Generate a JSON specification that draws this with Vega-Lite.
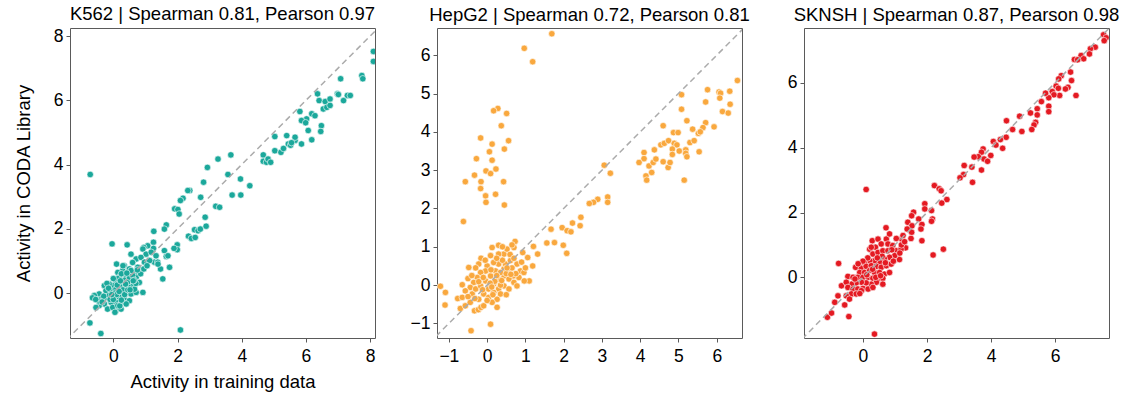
{
  "$schema": "https://vega.github.io/schema/vega-lite/v6.json",
  "padding": {"left": 13, "top": 4, "right": 5, "bottom": 5},
  "background": "white",
  "spacing": 62,
  "bounds": "flush",
  "config": {
    "font": "Liberation Sans",
    "view": {"stroke": "#5a5a5a", "strokeWidth": 1},
    "axis": {
      "domain": false, "grid": false, "ticks": true, "tickSize": 4, "tickColor": "#5a5a5a",
      "labelFont": "Liberation Sans", "labelFontSize": 17.5, "labelColor": "#000", "labelPadding": 3,
      "titleFont": "Liberation Sans", "titleFontSize": 18.5, "titleFontWeight": "normal", "titleColor": "#000"
    },
    "axisX": {"labelPadding": 5},
    "title": {"font": "Liberation Sans", "fontSize": 18.5, "fontWeight": "normal", "color": "#000", "offset": 4, "anchor": "middle"}
  },
  "datasets": {
    "diag": [
      {"cell": "K562", "x": -3, "y": -3}, {"cell": "K562", "x": 10, "y": 10},
      {"cell": "HepG2", "x": -3, "y": -3}, {"cell": "HepG2", "x": 10, "y": 10},
      {"cell": "SKNSH", "x": -3, "y": -3}, {"cell": "SKNSH", "x": 10, "y": 10}
    ],
    "points": [
      {"cell":"K562","x":-0.72,"y":3.69},{"cell":"K562","x":-0.73,"y":-0.93},{"cell":"K562","x":-0.39,"y":-1.26},{"cell":"K562","x":2.09,"y":-1.15},{"cell":"K562","x":-0.04,"y":1.53},{"cell":"K562","x":0.43,"y":1.5},{"cell":"K562","x":0.92,"y":0.02},
      {"cell":"K562","x":8.1,"y":7.52},{"cell":"K562","x":8.1,"y":7.21},{"cell":"K562","x":7.74,"y":6.77},{"cell":"K562","x":7.77,"y":6.67},{"cell":"K562","x":7.08,"y":6.67},
      {"cell":"K562","x":6.98,"y":6.2},{"cell":"K562","x":7.01,"y":6.18},{"cell":"K562","x":7.29,"y":6.15},{"cell":"K562","x":7.38,"y":6.15},{"cell":"K562","x":7.17,"y":5.99},
      {"cell":"K562","x":6.36,"y":6.2},{"cell":"K562","x":6.41,"y":5.99},{"cell":"K562","x":6.6,"y":5.96},{"cell":"K562","x":6.75,"y":6.04},{"cell":"K562","x":6.54,"y":5.73},{"cell":"K562","x":6.65,"y":5.78},{"cell":"K562","x":6.75,"y":5.84},
      {"cell":"K562","x":6.18,"y":5.58},{"cell":"K562","x":6.28,"y":5.52},{"cell":"K562","x":6.02,"y":5.42},{"cell":"K562","x":5.86,"y":5.37},{"cell":"K562","x":5.81,"y":5.65},{"cell":"K562","x":5.99,"y":5.3},
      {"cell":"K562","x":6.48,"y":5.21},{"cell":"K562","x":6.46,"y":5.03},{"cell":"K562","x":6.07,"y":5.06},{"cell":"K562","x":6.18,"y":4.77},{"cell":"K562","x":5.86,"y":4.64},{"cell":"K562","x":5.66,"y":4.75},{"cell":"K562","x":5.66,"y":4.85},{"cell":"K562","x":5.45,"y":4.64},{"cell":"K562","x":5.52,"y":4.6},{"cell":"K562","x":5.4,"y":4.9},{"cell":"K562","x":5.03,"y":4.87},{"cell":"K562","x":5.03,"y":4.43},{"cell":"K562","x":5.22,"y":4.38},{"cell":"K562","x":5.3,"y":4.5},{"cell":"K562","x":5.55,"y":4.68},
      {"cell":"K562","x":4.67,"y":4.3},{"cell":"K562","x":4.67,"y":4.1},{"cell":"K562","x":4.77,"y":4.07},{"cell":"K562","x":4.82,"y":4.17},{"cell":"K562","x":4.9,"y":4.07},
      {"cell":"K562","x":3.26,"y":4.17},{"cell":"K562","x":3.66,"y":4.3},{"cell":"K562","x":2.93,"y":3.91},{"cell":"K562","x":3.57,"y":3.69},{"cell":"K562","x":3.96,"y":3.55},{"cell":"K562","x":4.25,"y":3.34},{"cell":"K562","x":2.81,"y":3.45},{"cell":"K562","x":2.38,"y":3.19},{"cell":"K562","x":2.32,"y":3.19},{"cell":"K562","x":2.17,"y":2.95},{"cell":"K562","x":2.09,"y":2.88},{"cell":"K562","x":2.72,"y":2.98},{"cell":"K562","x":3.7,"y":3.05},{"cell":"K562","x":3.97,"y":3.05},{"cell":"K562","x":3.19,"y":2.7},{"cell":"K562","x":3.31,"y":2.67},{"cell":"K562","x":1.91,"y":2.62},{"cell":"K562","x":2.01,"y":2.6},{"cell":"K562","x":2.05,"y":2.46},{"cell":"K562","x":1.26,"y":1.92},{"cell":"K562","x":1.65,"y":2.12},{"cell":"K562","x":1.59,"y":1.99},{"cell":"K562","x":2.53,"y":1.97},{"cell":"K562","x":2.64,"y":1.94},{"cell":"K562","x":2.71,"y":1.99},{"cell":"K562","x":2.89,"y":2.08},{"cell":"K562","x":2.86,"y":2.36},{"cell":"K562","x":2.34,"y":1.77},{"cell":"K562","x":2.43,"y":1.7},{"cell":"K562","x":2.55,"y":1.73},{"cell":"K562","x":1.99,"y":1.5},{"cell":"K562","x":1.99,"y":1.35},{"cell":"K562","x":1.89,"y":1.39},{"cell":"K562","x":1.25,"y":1.58},{"cell":"K562","x":1.25,"y":1.39},{"cell":"K562","x":1.07,"y":1.47},{"cell":"K562","x":0.95,"y":1.42},{"cell":"K562","x":1.59,"y":1.32},{"cell":"K562","x":1.65,"y":1.14},{"cell":"K562","x":1.7,"y":1.16},{"cell":"K562","x":1.75,"y":0.8},{"cell":"K562","x":1.54,"y":0.44},{"cell":"K562","x":1.47,"y":0.75},{"cell":"K562","x":1.28,"y":0.96},{"cell":"K562","x":1.38,"y":0.96},
      {"cell":"K562","x":0.92,"y":1.37},{"cell":"K562","x":1.02,"y":1.21},{"cell":"K562","x":1.18,"y":1.27},{"cell":"K562","x":1.33,"y":1.16},{"cell":"K562","x":0.55,"y":1.21},{"cell":"K562","x":0.71,"y":1.06},{"cell":"K562","x":0.86,"y":1.11},{"cell":"K562","x":0.97,"y":0.96},{"cell":"K562","x":1.13,"y":1.01},{"cell":"K562","x":1.39,"y":0.9},
      {"cell":"K562","x":0.34,"y":0.85},{"cell":"K562","x":0.29,"y":0.7},{"cell":"K562","x":0.5,"y":0.75},{"cell":"K562","x":0.66,"y":0.64},{"cell":"K562","x":0.76,"y":0.8},{"cell":"K562","x":0.14,"y":0.64},{"cell":"K562","x":0.19,"y":0.49},{"cell":"K562","x":0.4,"y":0.54},{"cell":"K562","x":0.55,"y":0.44},{"cell":"K562","x":0.71,"y":0.49},{"cell":"K562","x":0.81,"y":0.33},{"cell":"K562","x":0.6,"y":0.23},{"cell":"K562","x":0.45,"y":0.23},{"cell":"K562","x":0.29,"y":0.33},{"cell":"K562","x":0.08,"y":0.33},{"cell":"K562","x":-0.02,"y":0.23},{"cell":"K562","x":-0.13,"y":0.28},{"cell":"K562","x":-0.28,"y":0.23},{"cell":"K562","x":-0.23,"y":0.07},{"cell":"K562","x":-0.07,"y":0.07},{"cell":"K562","x":0.08,"y":0.12},{"cell":"K562","x":0.24,"y":0.07},{"cell":"K562","x":0.4,"y":0.02},{"cell":"K562","x":0.55,"y":-0.03},{"cell":"K562","x":0.71,"y":0.02},{"cell":"K562","x":-0.44,"y":-0.03},{"cell":"K562","x":-0.59,"y":-0.08},{"cell":"K562","x":-0.39,"y":-0.19},{"cell":"K562","x":-0.23,"y":-0.13},{"cell":"K562","x":-0.13,"y":-0.08},{"cell":"K562","x":0.03,"y":-0.13},{"cell":"K562","x":0.19,"y":-0.13},{"cell":"K562","x":0.34,"y":-0.19},{"cell":"K562","x":0.5,"y":-0.24},{"cell":"K562","x":0.08,"y":-0.29},{"cell":"K562","x":-0.07,"y":-0.29},{"cell":"K562","x":-0.28,"y":-0.34},{"cell":"K562","x":-0.44,"y":-0.39},{"cell":"K562","x":-0.54,"y":-0.45},{"cell":"K562","x":-0.18,"y":-0.5},{"cell":"K562","x":0.08,"y":-0.55},{"cell":"K562","x":0.24,"y":-0.5},{"cell":"K562","x":-0.02,"y":-0.45},{"cell":"K562","x":0.29,"y":-0.29},{"cell":"K562","x":0.66,"y":0.12},{"cell":"K562","x":0.4,"y":-0.34},{"cell":"K562","x":0.14,"y":-0.39},
      {"cell":"K562","x":0.05,"y":0.0},{"cell":"K562","x":0.2,"y":0.2},{"cell":"K562","x":0.35,"y":0.4},{"cell":"K562","x":0.45,"y":0.35},{"cell":"K562","x":0.5,"y":0.5},{"cell":"K562","x":0.6,"y":0.55},{"cell":"K562","x":0.3,"y":0.1},{"cell":"K562","x":0.15,"y":0.45},{"cell":"K562","x":-0.1,"y":-0.2},{"cell":"K562","x":0.0,"y":0.45},{"cell":"K562","x":0.25,"y":0.6},{"cell":"K562","x":0.55,"y":0.7},{"cell":"K562","x":0.7,"y":0.3},{"cell":"K562","x":0.35,"y":-0.05},{"cell":"K562","x":-0.3,"y":-0.1},{"cell":"K562","x":-0.45,"y":-0.25},{"cell":"K562","x":0.1,"y":-0.05},{"cell":"K562","x":0.65,"y":0.4},{"cell":"K562","x":0.45,"y":0.1},{"cell":"K562","x":0.2,"y":-0.4},{"cell":"K562","x":0.05,"y":-0.6},{"cell":"K562","x":0.1,"y":0.9},{"cell":"K562","x":-0.65,"y":-0.15},{"cell":"K562","x":-0.55,"y":-0.2},{"cell":"K562","x":0.3,"y":0.85},{"cell":"K562","x":0.85,"y":0.6},{"cell":"K562","x":0.95,"y":0.75},{"cell":"K562","x":1.05,"y":0.85},{"cell":"K562","x":0.6,"y":0.95},{"cell":"K562","x":-0.2,"y":0.3},{"cell":"K562","x":0.0,"y":-0.2},
      {"cell":"K562","x":-0.15,"y":0.15},{"cell":"K562","x":0.12,"y":0.25},{"cell":"K562","x":0.38,"y":0.28},{"cell":"K562","x":0.52,"y":0.1},{"cell":"K562","x":0.62,"y":0.38},{"cell":"K562","x":0.25,"y":-0.22},{"cell":"K562","x":-0.35,"y":-0.28},{"cell":"K562","x":0.18,"y":0.05},{"cell":"K562","x":0.42,"y":0.62},{"cell":"K562","x":-0.05,"y":-0.05},{"cell":"K562","x":0.75,"y":0.72},{"cell":"K562","x":0.22,"y":0.38},

      {"cell":"HepG2","x":1.69,"y":6.56},{"cell":"HepG2","x":0.97,"y":6.18},{"cell":"HepG2","x":1.19,"y":5.83},{"cell":"HepG2","x":0.28,"y":4.61},{"cell":"HepG2","x":0.17,"y":4.55},{"cell":"HepG2","x":0.51,"y":4.48},{"cell":"HepG2","x":0.37,"y":4.16},{"cell":"HepG2","x":-0.17,"y":3.84},{"cell":"HepG2","x":0.56,"y":3.77},{"cell":"HepG2","x":0.13,"y":3.68},{"cell":"HepG2","x":0.45,"y":3.55},{"cell":"HepG2","x":0.06,"y":3.48},{"cell":"HepG2","x":-0.28,"y":3.3},{"cell":"HepG2","x":0.13,"y":3.26},{"cell":"HepG2","x":0.23,"y":3.03},{"cell":"HepG2","x":-0.03,"y":2.98},{"cell":"HepG2","x":0.09,"y":2.91},{"cell":"HepG2","x":-0.33,"y":2.87},{"cell":"HepG2","x":-0.57,"y":2.7},{"cell":"HepG2","x":-0.16,"y":2.7},{"cell":"HepG2","x":0.43,"y":2.7},{"cell":"HepG2","x":-0.17,"y":2.52},{"cell":"HepG2","x":0.22,"y":2.37},{"cell":"HepG2","x":-0.04,"y":2.33},{"cell":"HepG2","x":-0.03,"y":2.16},{"cell":"HepG2","x":0.45,"y":2.09},{"cell":"HepG2","x":-0.62,"y":1.66},
      {"cell":"HepG2","x":6.54,"y":5.34},{"cell":"HepG2","x":5.76,"y":5.1},{"cell":"HepG2","x":6.06,"y":5.04},{"cell":"HepG2","x":6.1,"y":5.01},{"cell":"HepG2","x":6.34,"y":5.06},{"cell":"HepG2","x":6.08,"y":4.88},{"cell":"HepG2","x":5.71,"y":4.78},{"cell":"HepG2","x":6.35,"y":4.72},{"cell":"HepG2","x":6.15,"y":4.53},{"cell":"HepG2","x":6.3,"y":4.49},{"cell":"HepG2","x":5.08,"y":4.97},{"cell":"HepG2","x":5.08,"y":4.59},{"cell":"HepG2","x":5.22,"y":4.29},{"cell":"HepG2","x":5.71,"y":4.24},{"cell":"HepG2","x":5.64,"y":4.11},{"cell":"HepG2","x":5.93,"y":4.13},{"cell":"HepG2","x":5.37,"y":4.07},{"cell":"HepG2","x":4.6,"y":4.16},{"cell":"HepG2","x":4.37,"y":3.53},{"cell":"HepG2","x":4.54,"y":3.66},{"cell":"HepG2","x":4.63,"y":3.7},{"cell":"HepG2","x":4.74,"y":3.77},{"cell":"HepG2","x":4.87,"y":3.98},{"cell":"HepG2","x":4.99,"y":3.98},{"cell":"HepG2","x":4.89,"y":3.7},{"cell":"HepG2","x":4.96,"y":3.66},{"cell":"HepG2","x":4.84,"y":3.55},{"cell":"HepG2","x":4.84,"y":3.41},{"cell":"HepG2","x":5.02,"y":3.5},{"cell":"HepG2","x":5.19,"y":3.53},{"cell":"HepG2","x":5.19,"y":3.44},{"cell":"HepG2","x":5.22,"y":3.35},{"cell":"HepG2","x":5.3,"y":3.72},{"cell":"HepG2","x":5.41,"y":3.77},{"cell":"HepG2","x":5.52,"y":3.96},{"cell":"HepG2","x":5.57,"y":4.0},{"cell":"HepG2","x":5.54,"y":3.48},{"cell":"HepG2","x":5.15,"y":2.74},{"cell":"HepG2","x":4.1,"y":3.46},{"cell":"HepG2","x":4.1,"y":3.3},{"cell":"HepG2","x":3.97,"y":3.2},{"cell":"HepG2","x":4.23,"y":3.11},{"cell":"HepG2","x":4.34,"y":3.2},{"cell":"HepG2","x":4.41,"y":3.29},{"cell":"HepG2","x":4.15,"y":2.85},{"cell":"HepG2","x":4.17,"y":2.74},{"cell":"HepG2","x":4.3,"y":2.94},{"cell":"HepG2","x":4.6,"y":3.22},{"cell":"HepG2","x":4.73,"y":3.07},{"cell":"HepG2","x":4.78,"y":3.2},{"cell":"HepG2","x":3.06,"y":3.13},{"cell":"HepG2","x":3.22,"y":2.92},{"cell":"HepG2","x":3.15,"y":2.3},{"cell":"HepG2","x":3.15,"y":2.16},{"cell":"HepG2","x":2.89,"y":2.24},{"cell":"HepG2","x":2.78,"y":2.16},{"cell":"HepG2","x":2.67,"y":2.13},{"cell":"HepG2","x":2.45,"y":1.77},{"cell":"HepG2","x":2.43,"y":1.55},{"cell":"HepG2","x":2.23,"y":1.62},{"cell":"HepG2","x":1.96,"y":1.5},{"cell":"HepG2","x":2.09,"y":1.42},{"cell":"HepG2","x":2.19,"y":1.39},{"cell":"HepG2","x":1.67,"y":1.46},{"cell":"HepG2","x":1.56,"y":1.1},{"cell":"HepG2","x":1.76,"y":1.11},{"cell":"HepG2","x":1.99,"y":1.04},{"cell":"HepG2","x":2.08,"y":0.83},{"cell":"HepG2","x":1.21,"y":1.01},{"cell":"HepG2","x":1.32,"y":0.81},{"cell":"HepG2","x":1.06,"y":0.72},{"cell":"HepG2","x":1.19,"y":0.5},{"cell":"HepG2","x":1.1,"y":0.11},
      {"cell":"HepG2","x":-1.22,"y":-0.03},{"cell":"HepG2","x":-1.09,"y":-0.19},{"cell":"HepG2","x":-1.1,"y":-0.52},{"cell":"HepG2","x":-0.42,"y":-1.19},{"cell":"HepG2","x":0.09,"y":-1.02},{"cell":"HepG2","x":-0.7,"y":-0.61},{"cell":"HepG2","x":-0.77,"y":-0.35},{"cell":"HepG2","x":-0.65,"y":0.01},{"cell":"HepG2","x":-0.48,"y":0.46},{"cell":"HepG2","x":-0.5,"y":0.17},{"cell":"HepG2","x":-0.16,"y":0.7},{"cell":"HepG2","x":-0.22,"y":0.55},{"cell":"HepG2","x":0.13,"y":0.98},{"cell":"HepG2","x":0.3,"y":1.04},{"cell":"HepG2","x":0.73,"y":1.14},{"cell":"HepG2","x":0.7,"y":0.98},{"cell":"HepG2","x":0.93,"y":0.85},{"cell":"HepG2","x":0.97,"y":0.11},{"cell":"HepG2","x":-0.33,"y":-0.67},{"cell":"HepG2","x":-0.23,"y":-0.64},{"cell":"HepG2","x":-0.16,"y":-0.58},
      {"cell":"HepG2","x":0.83,"y":0.2},{"cell":"HepG2","x":0.68,"y":0.24},{"cell":"HepG2","x":0.57,"y":0.37},{"cell":"HepG2","x":0.44,"y":0.42},{"cell":"HepG2","x":0.3,"y":0.55},{"cell":"HepG2","x":0.17,"y":0.59},{"cell":"HepG2","x":0.0,"y":0.5},{"cell":"HepG2","x":-0.04,"y":0.37},{"cell":"HepG2","x":-0.17,"y":0.33},{"cell":"HepG2","x":-0.26,"y":0.2},{"cell":"HepG2","x":-0.35,"y":0.07},{"cell":"HepG2","x":-0.44,"y":-0.06},{"cell":"HepG2","x":-0.57,"y":-0.15},{"cell":"HepG2","x":-0.65,"y":-0.32},{"cell":"HepG2","x":-0.57,"y":-0.54},{"cell":"HepG2","x":-0.44,"y":-0.45},{"cell":"HepG2","x":-0.09,"y":-0.54},{"cell":"HepG2","x":-0.22,"y":-0.37},{"cell":"HepG2","x":-0.09,"y":-0.23},{"cell":"HepG2","x":0.04,"y":-0.1},{"cell":"HepG2","x":0.17,"y":0.03},{"cell":"HepG2","x":0.3,"y":0.16},{"cell":"HepG2","x":0.44,"y":0.24},{"cell":"HepG2","x":0.57,"y":0.16},{"cell":"HepG2","x":0.7,"y":0.07},{"cell":"HepG2","x":0.44,"y":-0.02},{"cell":"HepG2","x":0.3,"y":-0.1},{"cell":"HepG2","x":0.17,"y":-0.19},{"cell":"HepG2","x":0.26,"y":-0.37},{"cell":"HepG2","x":0.04,"y":-0.32},{"cell":"HepG2","x":0.13,"y":-0.45},{"cell":"HepG2","x":-0.39,"y":-0.23},{"cell":"HepG2","x":-0.3,"y":-0.1},{"cell":"HepG2","x":0.09,"y":0.24},{"cell":"HepG2","x":0.22,"y":0.37},{"cell":"HepG2","x":0.35,"y":0.33},{"cell":"HepG2","x":0.48,"y":0.55},{"cell":"HepG2","x":0.61,"y":0.64},{"cell":"HepG2","x":0.78,"y":0.55},{"cell":"HepG2","x":0.87,"y":0.37},{"cell":"HepG2","x":-0.04,"y":0.11},{"cell":"HepG2","x":-0.17,"y":-0.02},{"cell":"HepG2","x":0.57,"y":-0.1},{"cell":"HepG2","x":0.78,"y":-0.02},{"cell":"HepG2","x":0.96,"y":0.33},{"cell":"HepG2","x":0.44,"y":0.81},{"cell":"HepG2","x":0.3,"y":0.81},{"cell":"HepG2","x":0.52,"y":0.94},{"cell":"HepG2","x":0.09,"y":0.77},{"cell":"HepG2","x":-0.22,"y":0.09},{"cell":"HepG2","x":0.35,"y":-0.23},{"cell":"HepG2","x":0.26,"y":-0.58},
      {"cell":"HepG2","x":0.2,"y":0.1},{"cell":"HepG2","x":0.5,"y":0.3},{"cell":"HepG2","x":0.65,"y":0.45},{"cell":"HepG2","x":0.4,"y":0.65},{"cell":"HepG2","x":0.1,"y":0.4},{"cell":"HepG2","x":-0.1,"y":0.2},{"cell":"HepG2","x":0.0,"y":-0.4},{"cell":"HepG2","x":0.35,"y":0.0},{"cell":"HepG2","x":0.6,"y":0.8},{"cell":"HepG2","x":0.25,"y":0.7},{"cell":"HepG2","x":-0.3,"y":0.45},{"cell":"HepG2","x":0.15,"y":-0.25},{"cell":"HepG2","x":-0.5,"y":-0.3},{"cell":"HepG2","x":0.75,"y":0.3},{"cell":"HepG2","x":0.9,"y":0.6},{"cell":"HepG2","x":1.0,"y":0.45},{"cell":"HepG2","x":0.5,"y":-0.25},{"cell":"HepG2","x":-0.05,"y":0.65},{"cell":"HepG2","x":0.4,"y":1.0},{"cell":"HepG2","x":0.65,"y":1.05},
      {"cell":"HepG2","x":-0.32,"y":-0.35},{"cell":"HepG2","x":-0.12,"y":-0.12},{"cell":"HepG2","x":0.08,"y":0.05},{"cell":"HepG2","x":0.25,"y":0.25},{"cell":"HepG2","x":0.52,"y":0.45},{"cell":"HepG2","x":0.38,"y":0.12},{"cell":"HepG2","x":0.7,"y":0.7},{"cell":"HepG2","x":-0.4,"y":0.25},{"cell":"HepG2","x":0.12,"y":-0.05},{"cell":"HepG2","x":0.62,"y":0.28},

      {"cell":"SKNSH","x":7.51,"y":7.48},{"cell":"SKNSH","x":7.59,"y":7.39},{"cell":"SKNSH","x":7.53,"y":7.3},{"cell":"SKNSH","x":7.25,"y":7.1},{"cell":"SKNSH","x":7.1,"y":7.05},{"cell":"SKNSH","x":7.07,"y":6.89},{"cell":"SKNSH","x":6.81,"y":6.84},{"cell":"SKNSH","x":6.89,"y":6.74},{"cell":"SKNSH","x":6.6,"y":6.72},{"cell":"SKNSH","x":6.7,"y":6.71},{"cell":"SKNSH","x":6.65,"y":5.61},{"cell":"SKNSH","x":6.51,"y":6.07},{"cell":"SKNSH","x":6.48,"y":6.33},{"cell":"SKNSH","x":6.19,"y":6.22},{"cell":"SKNSH","x":6.11,"y":6.12},{"cell":"SKNSH","x":6.03,"y":5.9},{"cell":"SKNSH","x":6.1,"y":5.83},{"cell":"SKNSH","x":6.4,"y":5.86},{"cell":"SKNSH","x":6.32,"y":5.81},{"cell":"SKNSH","x":6.14,"y":5.61},{"cell":"SKNSH","x":5.91,"y":5.73},{"cell":"SKNSH","x":5.96,"y":5.63},{"cell":"SKNSH","x":5.8,"y":5.54},{"cell":"SKNSH","x":5.7,"y":5.68},{"cell":"SKNSH","x":5.8,"y":5.28},{"cell":"SKNSH","x":5.8,"y":5.11},{"cell":"SKNSH","x":5.57,"y":5.42},{"cell":"SKNSH","x":5.44,"y":5.2},{"cell":"SKNSH","x":5.44,"y":5.01},{"cell":"SKNSH","x":5.39,"y":4.78},{"cell":"SKNSH","x":5.34,"y":4.7},{"cell":"SKNSH","x":5.27,"y":4.56},{"cell":"SKNSH","x":5.23,"y":5.07},{"cell":"SKNSH","x":4.89,"y":4.97},{"cell":"SKNSH","x":4.96,"y":4.5},{"cell":"SKNSH","x":4.48,"y":4.83},{"cell":"SKNSH","x":4.67,"y":4.56},{"cell":"SKNSH","x":4.47,"y":4.32},{"cell":"SKNSH","x":4.29,"y":4.25},{"cell":"SKNSH","x":4.07,"y":4.19},{"cell":"SKNSH","x":4.15,"y":4.08},{"cell":"SKNSH","x":4.36,"y":3.98},{"cell":"SKNSH","x":3.99,"y":3.76},{"cell":"SKNSH","x":3.75,"y":3.96},{"cell":"SKNSH","x":3.7,"y":3.86},{"cell":"SKNSH","x":3.78,"y":3.65},{"cell":"SKNSH","x":3.89,"y":3.58},{"cell":"SKNSH","x":3.6,"y":3.72},{"cell":"SKNSH","x":3.47,"y":3.71},{"cell":"SKNSH","x":3.4,"y":3.4},{"cell":"SKNSH","x":3.42,"y":2.93},{"cell":"SKNSH","x":3.7,"y":3.31},{"cell":"SKNSH","x":3.16,"y":3.45},{"cell":"SKNSH","x":3.14,"y":3.17},{"cell":"SKNSH","x":3.03,"y":3.07},{"cell":"SKNSH","x":2.23,"y":2.83},{"cell":"SKNSH","x":2.38,"y":2.73},{"cell":"SKNSH","x":2.44,"y":2.67},{"cell":"SKNSH","x":2.62,"y":2.4},{"cell":"SKNSH","x":2.46,"y":2.29},{"cell":"SKNSH","x":1.93,"y":2.27},{"cell":"SKNSH","x":1.93,"y":2.11},{"cell":"SKNSH","x":2.14,"y":2.06},{"cell":"SKNSH","x":2.17,"y":1.8},{"cell":"SKNSH","x":2.14,"y":1.73},{"cell":"SKNSH","x":1.58,"y":2.01},{"cell":"SKNSH","x":1.52,"y":1.9},{"cell":"SKNSH","x":1.74,"y":1.8},{"cell":"SKNSH","x":1.4,"y":1.7},{"cell":"SKNSH","x":1.84,"y":1.63},{"cell":"SKNSH","x":1.53,"y":1.59},{"cell":"SKNSH","x":1.38,"y":1.49},{"cell":"SKNSH","x":1.81,"y":1.49},{"cell":"SKNSH","x":1.52,"y":1.39},{"cell":"SKNSH","x":1.5,"y":1.2},{"cell":"SKNSH","x":1.84,"y":1.13},{"cell":"SKNSH","x":2.19,"y":0.69},{"cell":"SKNSH","x":2.51,"y":0.87},{"cell":"SKNSH","x":0.72,"y":1.53},{"cell":"SKNSH","x":1.33,"y":0.91},{"cell":"SKNSH","x":1.21,"y":1.18},{"cell":"SKNSH","x":1.04,"y":1.2},{"cell":"SKNSH","x":0.73,"y":1.18},{"cell":"SKNSH","x":0.1,"y":2.71},{"cell":"SKNSH","x":0.36,"y":-1.75},{"cell":"SKNSH","x":-0.44,"y":-1.21},{"cell":"SKNSH","x":-1.11,"y":-1.23},{"cell":"SKNSH","x":-0.98,"y":-1.1},{"cell":"SKNSH","x":-0.88,"y":-0.77},{"cell":"SKNSH","x":-0.78,"y":-0.57},{"cell":"SKNSH","x":-0.57,"y":-0.85},{"cell":"SKNSH","x":-0.76,"y":0.43},{"cell":"SKNSH","x":-0.67,"y":-0.26},
      {"cell":"SKNSH","x":0.83,"y":1.34},{"cell":"SKNSH","x":1.25,"y":1.29},{"cell":"SKNSH","x":0.29,"y":1.13},{"cell":"SKNSH","x":0.47,"y":1.18},{"cell":"SKNSH","x":0.39,"y":0.93},{"cell":"SKNSH","x":0.57,"y":1.03},{"cell":"SKNSH","x":0.78,"y":1.03},{"cell":"SKNSH","x":0.93,"y":0.98},{"cell":"SKNSH","x":0.21,"y":0.87},{"cell":"SKNSH","x":0.31,"y":0.72},{"cell":"SKNSH","x":0.47,"y":0.77},{"cell":"SKNSH","x":0.62,"y":0.82},{"cell":"SKNSH","x":0.78,"y":0.82},{"cell":"SKNSH","x":1.04,"y":0.82},{"cell":"SKNSH","x":1.19,"y":0.87},{"cell":"SKNSH","x":1.09,"y":0.67},{"cell":"SKNSH","x":1.14,"y":0.55},{"cell":"SKNSH","x":0.99,"y":0.67},{"cell":"SKNSH","x":0.83,"y":0.62},{"cell":"SKNSH","x":0.67,"y":0.57},{"cell":"SKNSH","x":0.52,"y":0.46},{"cell":"SKNSH","x":0.36,"y":0.51},{"cell":"SKNSH","x":0.21,"y":0.51},{"cell":"SKNSH","x":0.05,"y":0.44},{"cell":"SKNSH","x":-0.23,"y":0.31},{"cell":"SKNSH","x":-0.05,"y":0.28},{"cell":"SKNSH","x":0.1,"y":0.34},{"cell":"SKNSH","x":0.26,"y":0.36},{"cell":"SKNSH","x":0.42,"y":0.34},{"cell":"SKNSH","x":0.57,"y":0.31},{"cell":"SKNSH","x":0.73,"y":0.36},{"cell":"SKNSH","x":0.88,"y":0.41},{"cell":"SKNSH","x":-0.1,"y":0.15},{"cell":"SKNSH","x":0.05,"y":0.15},{"cell":"SKNSH","x":0.21,"y":0.21},{"cell":"SKNSH","x":0.36,"y":0.15},{"cell":"SKNSH","x":0.52,"y":0.15},{"cell":"SKNSH","x":0.67,"y":0.1},{"cell":"SKNSH","x":0.83,"y":0.15},{"cell":"SKNSH","x":-0.47,"y":0.03},{"cell":"SKNSH","x":-0.31,"y":0.0},{"cell":"SKNSH","x":-0.16,"y":0.0},{"cell":"SKNSH","x":0.0,"y":0.0},{"cell":"SKNSH","x":0.16,"y":0.0},{"cell":"SKNSH","x":0.31,"y":-0.03},{"cell":"SKNSH","x":0.47,"y":-0.05},{"cell":"SKNSH","x":0.62,"y":-0.03},{"cell":"SKNSH","x":0.42,"y":-0.15},{"cell":"SKNSH","x":0.26,"y":-0.21},{"cell":"SKNSH","x":0.1,"y":-0.17},{"cell":"SKNSH","x":-0.05,"y":-0.15},{"cell":"SKNSH","x":-0.21,"y":-0.17},{"cell":"SKNSH","x":-0.36,"y":-0.21},{"cell":"SKNSH","x":-0.52,"y":-0.15},{"cell":"SKNSH","x":-0.47,"y":-0.31},{"cell":"SKNSH","x":-0.31,"y":-0.36},{"cell":"SKNSH","x":-0.16,"y":-0.36},{"cell":"SKNSH","x":0.0,"y":-0.34},{"cell":"SKNSH","x":0.16,"y":-0.36},{"cell":"SKNSH","x":0.31,"y":-0.31},{"cell":"SKNSH","x":0.62,"y":-0.21},{"cell":"SKNSH","x":-0.36,"y":-0.51},{"cell":"SKNSH","x":-0.21,"y":-0.51},{"cell":"SKNSH","x":-0.05,"y":-0.41},{"cell":"SKNSH","x":-0.52,"y":-0.57},{"cell":"SKNSH","x":-0.42,"y":-0.67},{"cell":"SKNSH","x":0.26,"y":0.93},
      {"cell":"SKNSH","x":1.2,"y":1.0},{"cell":"SKNSH","x":0.95,"y":0.5},{"cell":"SKNSH","x":0.6,"y":0.65},{"cell":"SKNSH","x":0.15,"y":0.6},{"cell":"SKNSH","x":0.4,"y":0.0},{"cell":"SKNSH","x":-0.1,"y":-0.5},{"cell":"SKNSH","x":0.0,"y":0.5},{"cell":"SKNSH","x":1.3,"y":1.1},{"cell":"SKNSH","x":1.15,"y":0.75},
      {"cell":"SKNSH","x":0.12,"y":0.08},{"cell":"SKNSH","x":0.45,"y":0.6},{"cell":"SKNSH","x":0.7,"y":0.45},{"cell":"SKNSH","x":-0.25,"y":-0.05},{"cell":"SKNSH","x":0.3,"y":0.25},{"cell":"SKNSH","x":0.55,"y":0.05},{"cell":"SKNSH","x":-0.15,"y":0.42},{"cell":"SKNSH","x":0.9,"y":0.85}
    ]
  },
  "hconcat": [
    {
      "width": 305, "height": 310,
      "title": "K562 | Spearman 0.81, Pearson 0.97",
      "layer": [
        {
          "data": {"name": "points"},
          "transform": [{"filter": "datum.cell === 'K562'"}],
          "mark": {"type": "circle", "size": 42, "opacity": 1, "fill": "#1ba89b", "stroke": "white", "strokeWidth": 0.6, "clip": true},
          "encoding": {
            "x": {"field": "x", "type": "quantitative", "title": "Activity in training data",
                  "scale": {"domain": [-1.35, 8.15], "nice": false, "zero": false},
                  "axis": {"values": [0, 2, 4, 6, 8], "titlePadding": 8}},
            "y": {"field": "y", "type": "quantitative", "title": "Activity in CODA Library",
                  "scale": {"domain": [-1.4, 8.25], "nice": false, "zero": false},
                  "axis": {"values": [0, 2, 4, 6, 8], "titlePadding": 20}}
          }
        },
        {
          "data": {"name": "diag"},
          "transform": [{"filter": "datum.cell === 'K562'"}],
          "mark": {"type": "line", "color": "#ababab", "strokeWidth": 1.5, "strokeDash": [6, 4], "clip": true},
          "encoding": {
            "x": {"field": "x", "type": "quantitative"},
            "y": {"field": "y", "type": "quantitative"}
          }
        }
      ]
    },
    {
      "width": 305, "height": 310,
      "title": "HepG2 | Spearman 0.72, Pearson 0.81",
      "layer": [
        {
          "data": {"name": "points"},
          "transform": [{"filter": "datum.cell === 'HepG2'"}],
          "mark": {"type": "circle", "size": 42, "opacity": 1, "fill": "#f9a83e", "stroke": "white", "strokeWidth": 0.6, "clip": true},
          "encoding": {
            "x": {"field": "x", "type": "quantitative", "title": null,
                  "scale": {"domain": [-1.31, 6.66], "nice": false, "zero": false},
                  "axis": {"values": [-1, 0, 1, 2, 3, 4, 5, 6]}},
            "y": {"field": "y", "type": "quantitative", "title": null,
                  "scale": {"domain": [-1.38, 6.71], "nice": false, "zero": false},
                  "axis": {"values": [-1, 0, 1, 2, 3, 4, 5, 6]}}
          }
        },
        {
          "data": {"name": "diag"},
          "transform": [{"filter": "datum.cell === 'HepG2'"}],
          "mark": {"type": "line", "color": "#ababab", "strokeWidth": 1.5, "strokeDash": [6, 4], "clip": true},
          "encoding": {
            "x": {"field": "x", "type": "quantitative"},
            "y": {"field": "y", "type": "quantitative"}
          }
        }
      ]
    },
    {
      "width": 305, "height": 310,
      "title": "SKNSH | Spearman 0.87, Pearson 0.98",
      "layer": [
        {
          "data": {"name": "points"},
          "transform": [{"filter": "datum.cell === 'SKNSH'"}],
          "mark": {"type": "circle", "size": 42, "opacity": 1, "fill": "#e41a22", "stroke": "white", "strokeWidth": 0.6, "clip": true},
          "encoding": {
            "x": {"field": "x", "type": "quantitative", "title": null,
                  "scale": {"domain": [-1.84, 7.68], "nice": false, "zero": false},
                  "axis": {"values": [0, 2, 4, 6]}},
            "y": {"field": "y", "type": "quantitative", "title": null,
                  "scale": {"domain": [-1.87, 7.69], "nice": false, "zero": false},
                  "axis": {"values": [0, 2, 4, 6]}}
          }
        },
        {
          "data": {"name": "diag"},
          "transform": [{"filter": "datum.cell === 'SKNSH'"}],
          "mark": {"type": "line", "color": "#ababab", "strokeWidth": 1.5, "strokeDash": [6, 4], "clip": true},
          "encoding": {
            "x": {"field": "x", "type": "quantitative"},
            "y": {"field": "y", "type": "quantitative"}
          }
        }
      ]
    }
  ]
}
